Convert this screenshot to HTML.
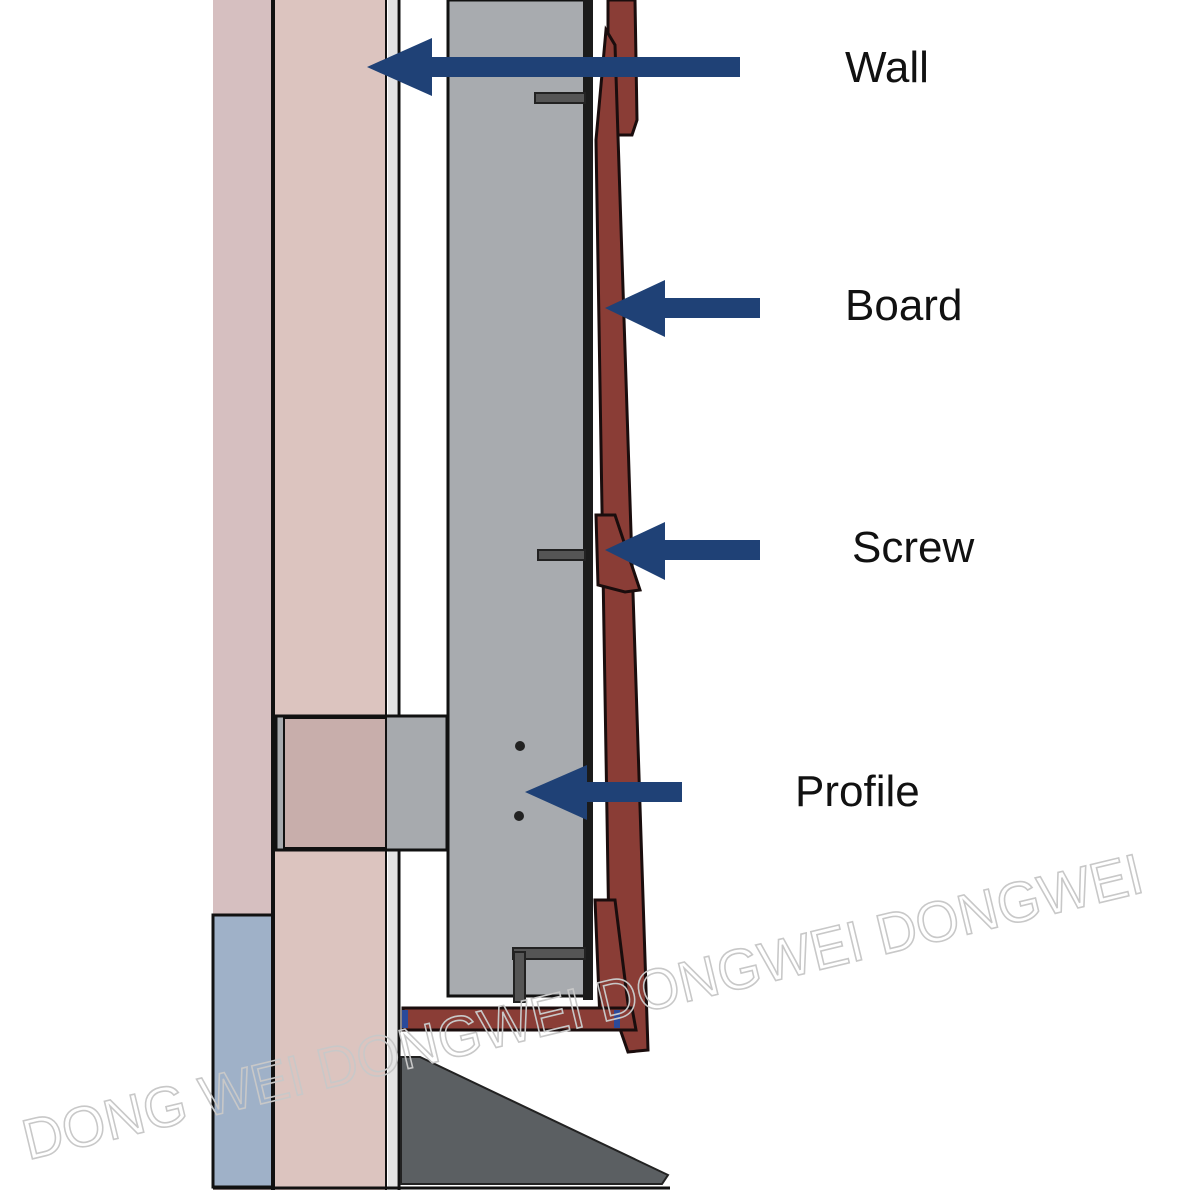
<!DOCTYPE html>
<html><head><style>html,body{margin:0;padding:0;background:#fff;width:1196px;height:1196px;overflow:hidden}</style></head>
<body>
<svg width="1196" height="1196" viewBox="0 0 1196 1196" xmlns="http://www.w3.org/2000/svg">
<rect width="1196" height="1196" fill="#fff"/>
<rect x="213" y="0" width="60" height="1190" fill="#d6bfc0"/>
<rect x="213" y="915" width="66" height="272" fill="#9fb1c8" stroke="#111" stroke-width="3"/>
<rect x="275" y="0" width="111" height="1190" fill="#dcc4bf"/>
<line x1="273" y1="0" x2="273" y2="1190" stroke="#111" stroke-width="4"/>
<line x1="386" y1="0" x2="386" y2="1190" stroke="#111" stroke-width="2"/>
<rect x="388" y="0" width="9" height="1190" fill="#e4e4e4"/>
<line x1="399" y1="0" x2="399" y2="1190" stroke="#111" stroke-width="3"/>
<rect x="276" y="716" width="171" height="134" fill="#a7aaae" stroke="#111" stroke-width="3"/>
<rect x="284" y="718" width="102" height="130" fill="#c8aeab" stroke="#111" stroke-width="2"/>
<line x1="386" y1="716" x2="386" y2="850" stroke="#111" stroke-width="2"/>
<rect x="448" y="0" width="138" height="996" fill="#a8abaf" stroke="#111" stroke-width="3"/>
<rect x="583" y="0" width="10" height="1000" fill="#1b1b1b"/>
<circle cx="520" cy="746" r="5" fill="#222"/>
<circle cx="519" cy="816" r="5" fill="#222"/>
<rect x="535" y="93" width="50" height="10" fill="#555" stroke="#222" stroke-width="2"/>
<rect x="538" y="550" width="47" height="10" fill="#555" stroke="#222" stroke-width="2"/>
<rect x="513" y="948" width="72" height="11" fill="#555" stroke="#222" stroke-width="2"/>
<rect x="514" y="952" width="11" height="50" fill="#555" stroke="#222" stroke-width="2"/>
<g fill="#8a3d36" stroke="#1a0d0d" stroke-width="3">
<polygon points="608,0 635,0 637,120 632,135 608,135"/>
<polygon points="596,140 606,30 615,45 648,1050 628,1052 610,1000"/>
<polygon points="596,515 615,515 640,590 625,592 598,585"/>
<polygon points="595,900 615,900 630,1020 600,1020"/>
<polygon points="403,1008 632,1008 636,1030 403,1030"/>
</g>
<rect x="402" y="1010" width="6" height="18" fill="#2a4a9a"/>
<rect x="614" y="1010" width="6" height="18" fill="#2a4a9a"/>
<polygon points="401,1057 420,1057 668,1175 662,1184 401,1184" fill="#5b5f62" stroke="#222" stroke-width="2"/>
<line x1="213" y1="1188" x2="670" y2="1188" stroke="#111" stroke-width="3"/>
<g fill="#1f4176">
<rect x="430" y="57" width="310" height="20"/><polygon points="367,67 432,38 432,96"/>
<rect x="663" y="298" width="97" height="20"/><polygon points="605,308 665,280 665,337"/>
<rect x="663" y="540" width="97" height="20"/><polygon points="605,550 665,522 665,580"/>
<rect x="585" y="782" width="97" height="20"/><polygon points="525,792 587,765 587,820"/>
</g>
<g font-family="Liberation Sans, sans-serif" font-size="44" fill="#111">
<text x="845" y="82">Wall</text>
<text x="845" y="320">Board</text>
<text x="852" y="562">Screw</text>
<text x="795" y="806">Profile</text>
</g>
<text x="0" y="0" transform="translate(28,1160) rotate(-13.5)" font-family="Liberation Sans, sans-serif" font-size="57" fill="none" stroke="#c8c8c8" stroke-width="1.6" textLength="1150" lengthAdjust="spacingAndGlyphs">DONG WEI DONGWEI DONGWEI DONGWEI</text>
</svg>
</body></html>
